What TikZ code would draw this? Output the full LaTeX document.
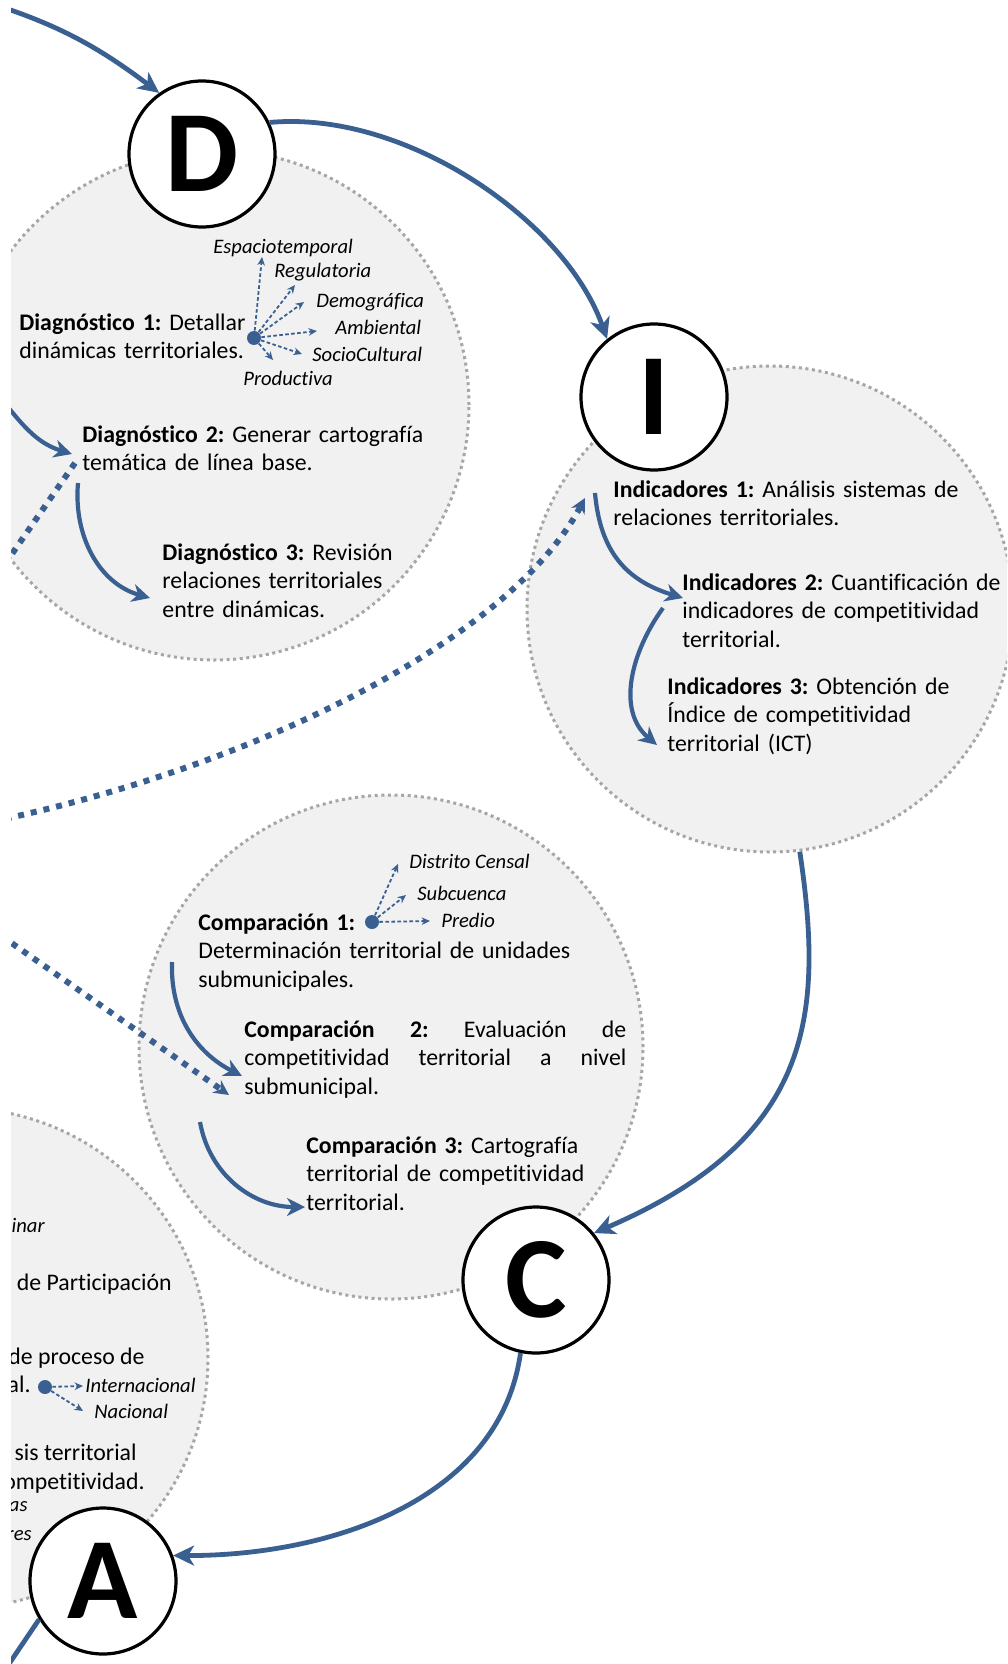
\documentclass[tikz,border=0pt]{standalone}
\usepackage{fontspec}
\setmainfont[Ligatures={NoCommon}]{Carlito}
\usetikzlibrary{arrows.meta}
\definecolor{azul}{RGB}{58,96,145}
\definecolor{zonafill}{RGB}{241,241,241}
\definecolor{zonaline}{RGB}{166,166,166}

\begin{document}
\begin{tikzpicture}[x=0.5pt,y=0.5pt,
  zona/.style={circle, fill=zonafill, draw=zonaline, line width=1.5pt, dash pattern=on 1.5pt off 1.8pt, inner sep=0pt},
  etapa/.style={circle, draw=black, line width=1.6pt, fill=white, minimum size=73pt, inner sep=0pt, font=\fontsize{58}{58}\selectfont\bfseries},
  paso/.style={anchor=base west, text width=200pt, align=left, inner sep=0pt, font=\fontsize{11.9}{14.25}\selectfont\frenchspacing},
  resto/.style={anchor=base east, inner sep=0pt, font=\fontsize{11.9}{14.25}\selectfont\frenchspacing},
  tipo/.style={anchor=base west, inner sep=0pt, font=\fontsize{10.3}{12}\selectfont\itshape},
  nucleo/.style={circle, fill=azul, inner sep=0pt, minimum size=7pt},
  flujo/.style={azul, line width=2.4pt, -{Stealth[length=10.5pt,width=10pt,inset=3pt]}},
  avance/.style={azul, line width=2.1pt, -{Stealth[length=9pt,width=9pt,inset=2.8pt]}},
  enlace/.style={azul, line width=3pt, dash pattern=on 3pt off 3.5pt},
  rama/.style={azul, line width=0.9pt, dash pattern=on 1.8pt off 1.2pt, -{Stealth[length=4.2pt,width=3.8pt]}}
]
\useasboundingbox (0,0) rectangle (1007,-1664);
\begin{scope}
\clip (11,0) rectangle (1007,-1664);

\node[zona, minimum size=255pt] (diagzona) at (214,-405) {};
\node[zona, minimum size=243pt] (indzona) at (770,-609) {};
\node[zona, minimum size=252pt] (compzona) at (391,-1047) {};
\node[zona, minimum size=250pt] (alczona) at (-42,-1358) {};

\node[etapa] (d) at (202,-154) {D};
\node[etapa] (i) at (654,-397) {I};
\node[etapa] (c) at (536,-1280) {C};
\node[etapa] (a) at (103,-1581) {A};

\node[paso] (diag1) at (19,-330) {\textbf{Diagnóstico 1:} Detallar\\dinámicas territoriales.};
\node[paso] (diag2) at (82,-442) {\textbf{Diagnóstico 2:} Generar cartografía\\temática de línea base.};
\node[paso] (diag3) at (162,-560) {\textbf{Diagnóstico 3:} Revisión\\relaciones territoriales\\entre dinámicas.};

\node[paso] (ind1) at (613,-497) {\textbf{Indicadores 1:} Análisis sistemas de\\relaciones territoriales.};
\node[paso] (ind2) at (682,-590) {\textbf{Indicadores 2:} Cuantificación de\\indicadores de competitividad\\territorial.};
\node[paso] (ind3) at (667,-694) {\textbf{Indicadores 3:} Obtención de\\Índice de competitividad\\territorial (ICT)};

\node[paso] (comp1) at (198,-930) {\textbf{Comparación 1:}\\Determinación territorial de unidades\\submunicipales.};
\node[paso, text width=191pt, align=justify] (comp2) at (244,-1037) {\textbf{Comparación 2:} Evaluación de\linebreak competitividad territorial a nivel\linebreak submunicipal.};
\node[paso] (comp3) at (306,-1153) {\textbf{Comparación 3:} Cartografía\\territorial de competitividad\\territorial.};

\node[tipo, anchor=base east] (f1) at (45,-1232) {inar};
\node[resto] (f2) at (172,-1290) {de Participación};
\node[resto] (f3) at (145,-1364) {de proceso de};
\node[resto] (f4) at (31,-1392) {al.};
\node[resto] (f5) at (137,-1460) {sis territorial};
\node[resto] (f6) at (145,-1489) {competitividad.};
\node[tipo, anchor=base east] (f7) at (28,-1511) {as};
\node[tipo, anchor=base east] (f8) at (32,-1540) {res};

\node[nucleo] (hub1) at (254,-338) {};
\node[tipo] (esp) at (213,-254) {Espaciotemporal};
\node[tipo] (reg) at (274,-278) {Regulatoria};
\node[tipo] (dem) at (316,-307) {Demográfica};
\node[tipo] (amb) at (335,-334) {Ambiental};
\node[tipo] (soc) at (312,-361) {SocioCultural};
\node[tipo] (pro) at (243,-385) {Productiva};
\draw[rama] (hub1) -- ([shift={(49,-3)}]esp.base west);
\draw[rama] (hub1) -- ([shift={(21,-7)}]reg.base west);
\draw[rama] (hub1) -- ([shift={(-12,5)}]dem.base west);
\draw[rama] (hub1) -- ([shift={(-18,3)}]amb.base west);
\draw[rama] (hub1) -- ([shift={(-10,7)}]soc.base west);
\draw[rama] (hub1) -- ([shift={(30,25)}]pro.base west);

\node[nucleo] (hub2) at (372,-922) {};
\node[tipo] (dis) at (409,-868) {Distrito Censal};
\node[tipo] (sub) at (417,-900) {Subcuenca};
\node[tipo] (pre) at (441,-927) {Predio};
\draw[rama] (hub2) -- ([shift={(-11,4)}]dis.base west);
\draw[rama] (hub2) -- ([shift={(-11,5)}]sub.base west);
\draw[rama] (hub2) -- ([shift={(-11,6)}]pre.base west);

\node[nucleo] (hub3) at (45,-1387) {};
\node[tipo] (int) at (85,-1392) {Internacional};
\node[tipo] (nac) at (94,-1418) {Nacional};
\draw[rama] (hub3) -- ([shift={(-2,6)}]int.base west);
\draw[rama] (hub3) -- ([shift={(-11,7)}]nac.base west);

\coordinate (previo) at (-20,0);
\coordinate (siguiente) at (-10,-1692);
\draw[flujo] (previo) to[out=-17,in=143] (d.125);
\draw[flujo] (d.25) .. controls (405,-110) and (565,-220) .. (i.129);
\draw[flujo] (indzona.-83) .. controls (825,-1020) and (810,-1140) .. (c.39);
\draw[flujo] (c.-102) .. controls (500,-1500) and (330,-1556) .. (a.20);
\draw[azul, line width=2.4pt] (a.211) -- (siguiente);

\coordinate (retorno) at (-10,-385);
\draw[avance] (retorno) to[out=-50,in=163] ([shift={(-10,-12)}]diag2.base west);
\draw[avance] ([shift={(-4,-41)}]diag2.base west) to[out=-95,in=164] ([shift={(-12,-38)}]diag3.base west);
\draw[avance] ([shift={(-18,4)}]ind1.base west) to[out=-85,in=163,looseness=1.1] ([shift={(1,-8)}]ind2.base west);
\draw[avance] ([shift={(-19,-18)}]ind2.base west) to[out=-126,in=140] ([shift={(-10,-51)}]ind3.base west);
\draw[avance] ([shift={(-26,-32)}]comp1.base west) to[out=-92,in=153] ([shift={(-2,-39)}]comp2.base west);
\draw[avance] ([shift={(-44,-85)}]comp2.base west) to[out=-80,in=180] ([shift={(-1,-54)}]comp3.base west);

\coordinate (origen) at (-20,-824);
\coordinate (origen2) at (-20,-921);
\coordinate (fuga) at (-20,-600);
\draw[enlace, -{Stealth[length=7.5pt,width=7.5pt]}] (origen) .. controls (250,-770) and (510,-640) .. ([shift={(-28,-1)}]ind1.base west);
\draw[enlace, -{Stealth[length=7.5pt,width=7.5pt]}] (origen2) -- ([shift={(-15,-58)}]comp2.base west);
\draw[enlace] ([shift={(-7,-21)}]diag2.base west) -- (fuga);
\end{scope}
\end{tikzpicture}
\end{document}
